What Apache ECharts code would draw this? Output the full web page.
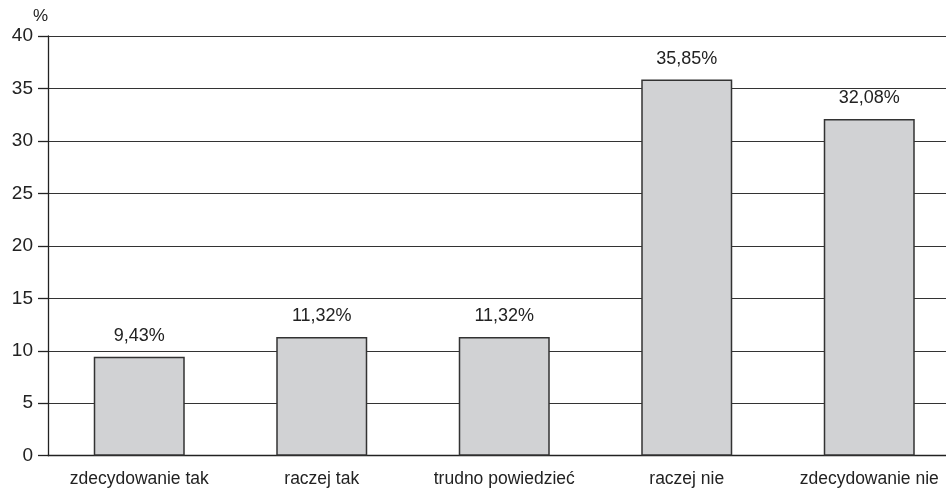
<!DOCTYPE html>
<html>
<head>
<meta charset="utf-8">
<script src="https://cdn.jsdelivr.net/npm/echarts@6/dist/echarts.min.js"></script>
<style>
  html, body { margin: 0; padding: 0; background: #fff; overflow: hidden; }
  /* the plot area runs a little past the right edge of the window */
  #chart { width: 961px; height: 492px; }
</style>
</head>
<body>
<div id="chart"></div>
<script>
// Answer categories and their shares (%)
const categories = ['zdecydowanie tak', 'raczej tak', 'trudno powiedzieć', 'raczej nie', 'zdecydowanie nie'];
const shares = [9.43, 11.32, 11.32, 35.85, 32.08];
const yTicks = [0, 5, 10, 15, 20, 25, 30, 35, 40];

const font = '"Liberation Sans", Arial, sans-serif';

const chart = echarts.init(document.getElementById('chart'), null, { renderer: 'canvas' });
chart.setOption({
  animation: false,
  backgroundColor: '#ffffff',
  grid: { left: 48, right: 0.5, top: 36, bottom: 36.3, containLabel: false },
  xAxis: {
    type: 'category',
    data: categories,
    axisLine: { show: true, lineStyle: { color: '#222', width: 1.3 } },
    axisTick: { show: false },
    axisLabel: { color: '#222', fontSize: 17.5, fontFamily: font, margin: 14, interval: 0 }
  },
  yAxis: {
    type: 'value',
    min: yTicks[0],
    max: yTicks[yTicks.length - 1],
    interval: 5,
    name: '%',
    nameLocation: 'end',
    nameGap: 11,
    nameTextStyle: { color: '#222', fontSize: 17, fontFamily: font, align: 'right' },
    axisLine: { show: true, lineStyle: { color: '#222', width: 1.3 } },
    axisTick: { show: true, inside: false, length: 10, lineStyle: { color: '#222', width: 1.3 } },
    axisLabel: { color: '#222', fontSize: 19, fontFamily: font, margin: 15 },
    splitLine: { show: true, lineStyle: { color: '#333', width: 1.2 } }
  },
  series: [{
    type: 'bar',
    data: shares,
    barWidth: 91,
    itemStyle: { color: '#d1d2d4', borderColor: '#333', borderWidth: 1.5 },
    label: {
      show: true,
      position: 'top',
      distance: 12,
      color: '#222',
      fontSize: 18,
      fontFamily: font,
      formatter: p => p.value.toFixed(2).replace('.', ',') + '%'
    }
  }]
});
</script>
</body>
</html>
